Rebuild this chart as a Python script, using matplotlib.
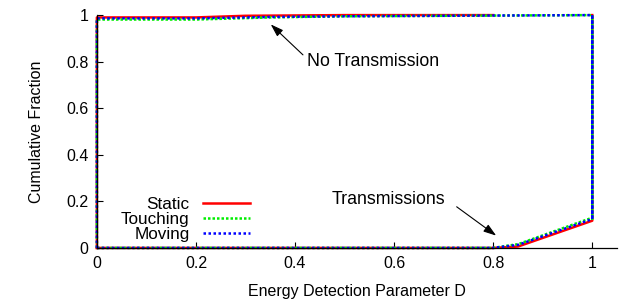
import matplotlib
matplotlib.use("Agg")
import matplotlib.pyplot as plt

plt.rcParams['font.family'] = ['Liberation Sans', 'DejaVu Sans']

series = ["Static", "Touching", "Moving"]
colors = ["#ff0000", "#00ee00", "#0000ff"]
styles = ["-", (0, (1, 0.8)), (0, (1, 1))]

# "No Transmission" curves
notx_x = {
    "Static":   [0, 0, 0.2, 0.3, 0.5, 0.8],
    "Touching": [0, 0, 0.2, 0.35, 0.5, 0.8, 1.0, 1.0],
    "Moving":   [0, 0, 0.2, 0.35, 0.5, 0.8, 1.0, 1.0],
}
notx_y = {
    "Static":   [0, 0.99, 0.99, 0.997, 1.0, 1.0],
    "Touching": [0, 0.981, 0.981, 0.99, 0.995, 0.998, 1.0, 0.12],
    "Moving":   [0, 0.986, 0.986, 0.992, 0.995, 0.998, 1.0, 0.12],
}
# "Transmissions" curves
tx_x = {
    "Static":   [0, 0.8, 0.85, 1.0, 1.0],
    "Touching": [0, 0.8, 0.83, 0.85, 1.0, 1.0],
    "Moving":   [0, 0.8, 0.83, 0.85, 1.0, 1.0],
}
tx_y = {
    "Static":   [0, 0, 0.006, 0.117, 1.0],
    "Touching": [0, 0, 0.01, 0.016, 0.13, 1.0],
    "Moving":   [0, 0, 0.008, 0.013, 0.124, 1.0],
}

xticks = [0, 0.2, 0.4, 0.6, 0.8, 1]
xticklabels = ["0", "0.2", "0.4", "0.6", "0.8", "1"]
yticks = [0, 0.2, 0.4, 0.6, 0.8, 1]
yticklabels = ["0", "0.2", "0.4", "0.6", "0.8", "1"]

fig = plt.figure(figsize=(6.21, 3.02), dpi=100)
ax = fig.add_axes([0.156, 0.179, 0.8376, 0.771])

for s, c, ls in zip(series, colors, styles):
    ax.plot(tx_x[s], tx_y[s], color=c, linestyle=ls, lw=1.8, clip_on=False)
    ax.plot(notx_x[s], notx_y[s], color=c, linestyle=ls, lw=1.8, clip_on=False, label=s)

ax.set_xlim(0, 1.05)
ax.set_ylim(0, 1)
ax.set_xticks(xticks)
ax.set_xticklabels(xticklabels)
ax.set_yticks(yticks)
ax.set_yticklabels(yticklabels)
ax.tick_params(direction="in", length=4, width=0.8, labelsize=11.5, pad=6)
ax.spines["top"].set_visible(False)
ax.spines["right"].set_visible(False)
ax.spines["left"].set_linewidth(0.9)
ax.spines["bottom"].set_linewidth(0.9)

ax.set_xlabel("Energy Detection Parameter D", fontsize=11.5, labelpad=9)
ax.set_ylabel("Cumulative Fraction", fontsize=11.5, labelpad=16)

ax.annotate("No Transmission", xy=(0.351, 0.96), xytext=(0.424, 0.80),
            fontsize=12.8, va="center", ha="left",
            arrowprops=dict(arrowstyle="-|>,head_length=0.6,head_width=0.2", color="black", lw=0.8,
                            shrinkA=0, shrinkB=0, relpos=(-0.03, 0.9)))
ax.annotate("Transmissions", xy=(0.806, 0.053), xytext=(0.474, 0.206),
            fontsize=12.8, va="center", ha="left",
            arrowprops=dict(arrowstyle="-|>,head_length=0.6,head_width=0.2", color="black", lw=0.8,
                            shrinkA=0, shrinkB=0, relpos=(1.1, 0.1)))

leg = ax.legend(loc="lower left", bbox_to_anchor=(0.023, -0.025), frameon=False,
                markerfirst=False, fontsize=12.3, handlelength=2.75,
                handletextpad=0.8, labelspacing=0.0, borderaxespad=0.3)
for t in leg.get_texts():
    t.set_ha("right")
leg._legend_box.align = "right"

fig.savefig("out.png", dpi=100)
